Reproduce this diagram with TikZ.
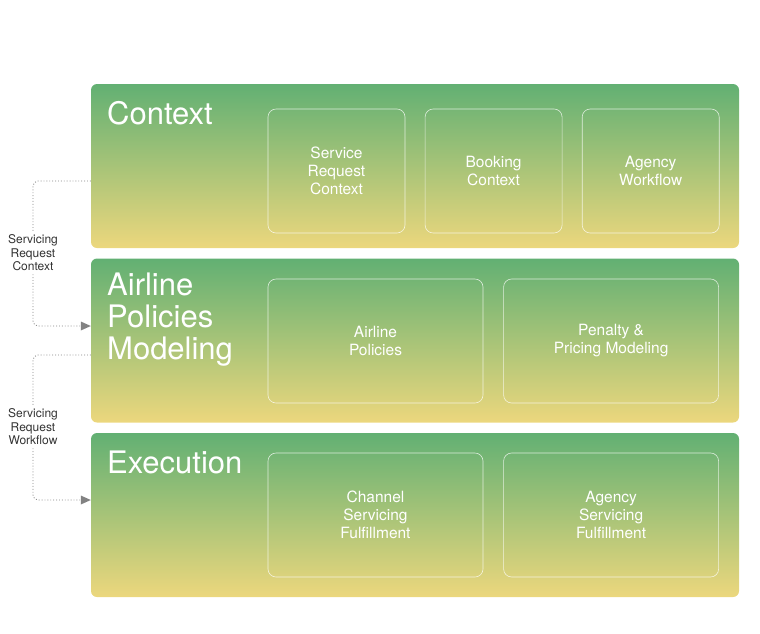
\documentclass[tikz,border=0pt]{standalone}
\usepackage{fontspec}
\setmainfont{TeX Gyre Heros}
\usetikzlibrary{positioning,arrows.meta}

\definecolor{bandtop}{RGB}{98,176,115}
\definecolor{bandbot}{RGB}{236,215,125}
\definecolor{flowgray}{RGB}{130,130,130}

\begin{document}
\begin{tikzpicture}[x=1pt, y=-1pt, node distance=20pt,
	band node/.style={rectangle, rounded corners=6pt, inner sep=0pt, top color=bandtop, bottom color=bandbot,
		minimum width=648pt, minimum height=164pt},
	title node/.style={anchor=west, text=white, font=\fontsize{31}{32}\selectfont, align=left, inner sep=0pt},
	box node/.style={rectangle, rounded corners=8pt, draw=white, draw opacity=0.75, line width=0.6pt,
		text=white, font=\fontsize{15.5}{18}\selectfont, align=center, minimum height=124pt},
	small box/.style={box node, minimum width=137pt},
	wide box/.style={box node, minimum width=215pt},
	side node/.style={text=black!80, font=\fontsize{12}{13.5}\selectfont, align=center, inner sep=3pt, fill=white},
	flow/.style={flowgray, dotted, line width=0.9pt, rounded corners=5pt}]
	
	\useasboundingbox (0,0) rectangle (760,633);
	
	% bands
	\node[band node] (ctx) at (415,166) {};
	\node[band node] (pol) at (415,340.5) {};
	\node[band node] (exe) at (415,515) {};
	
	\node[title node] (ctxt) at (107,113) {Context};
	\node[title node] (polt) at (107,320) {Airline\\Policies\\Modeling};
	\node[title node] (exet) at (107,462) {Execution};
	
	% boxes
	\node[small box] (s1) at (336.5,171) {Service\\Request\\Context};
	\node[small box] (s2) [right=19.5pt of s1] {Booking\\Context};
	\node[small box] (s3) [right=19.5pt of s2] {Agency\\Workflow};
	
	\node[wide box] (p1) at (375.5,341) {Airline\\Policies};
	\node[wide box] (p2) [right=of p1] {Penalty \&\\Pricing Modeling};
	
	\node[wide box] (e1) at (375.5,515) {Channel\\Servicing\\Fulfillment};
	\node[wide box] (e2) [right=of e1] {Agency\\Servicing\\Fulfillment};
	
	% side flows
	\node[side node] (l1) at (33,253) {Servicing\\Request\\Context};
	\node[side node] (l2) at (33,427) {Servicing\\Request\\Workflow};
	
	\draw[flow] ([yshift=-15pt]ctx.west) -| (l1.north);
	\draw[flow] (l1.south) |- ([yshift=14.5pt]pol.west);
	\fill[flowgray] ([yshift=14.5pt]pol.west) -- ++(-10,-4.5) -- ++(0,9) -- cycle;
	\draw[flow] ([yshift=-14.5pt]pol.west) -| (l2.north);
	\draw[flow] (l2.south) |- ([yshift=15pt]exe.west);
	\fill[flowgray] ([yshift=15pt]exe.west) -- ++(-10,-4.5) -- ++(0,9) -- cycle;
\end{tikzpicture}
\end{document}
